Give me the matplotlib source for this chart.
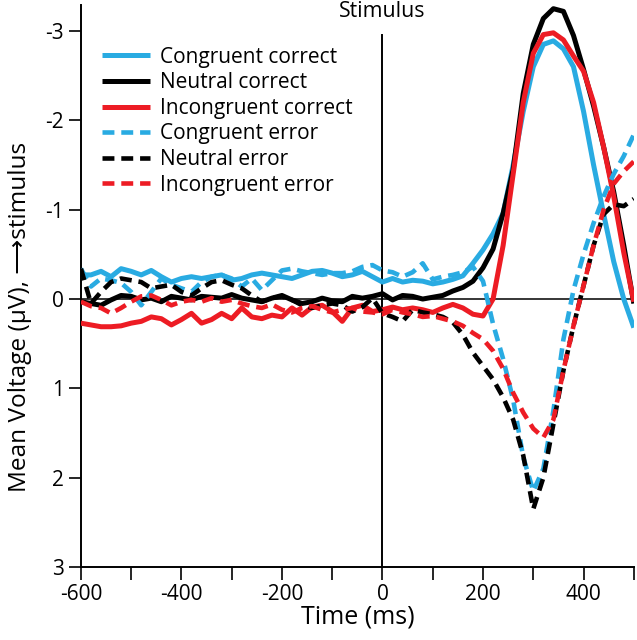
import numpy as np
import matplotlib
matplotlib.use("Agg")
import matplotlib.pyplot as plt

plt.rcParams['font.family'] = ['Open Sans', 'DejaVu Sans']
plt.rcParams['axes.unicode_minus'] = False

# Time axis (ms), one sample every 20 ms
time_ms = np.arange(-600, 501, 20)

# Mean voltage (uV), negative is up
congruent_correct = [
    -0.27, -0.27, -0.31, -0.25, -0.34, -0.31, -0.27, -0.32, -0.25, -0.19,
    -0.23, -0.25, -0.23, -0.25, -0.27, -0.21, -0.23, -0.27, -0.29, -0.27,
    -0.25, -0.23, -0.27, -0.31, -0.32, -0.29, -0.25, -0.27, -0.31, -0.25,
    -0.19, -0.23, -0.19, -0.21, -0.20, -0.17, -0.19, -0.22, -0.26, -0.40,
    -0.55, -0.73, -0.96, -1.50, -2.10, -2.60, -2.85, -2.89, -2.80, -2.60,
    -2.10, -1.50, -0.95, -0.42, 0.00, 0.32]
neutral_correct = [
    0.03, 0.05, 0.07, 0.01, -0.04, -0.03, 0.01, -0.01, 0.03, -0.03,
    -0.01, 0.01, -0.03, -0.02, -0.01, -0.05, -0.01, 0.01, 0.03, -0.01,
    -0.04, 0.01, 0.05, 0.03, -0.01, 0.02, 0.03, -0.03, -0.01, -0.03,
    -0.06, 0.01, -0.04, -0.03, 0.00, -0.02, -0.04, -0.09, -0.13, -0.20,
    -0.35, -0.56, -0.96, -1.45, -2.30, -2.85, -3.14, -3.25, -3.22, -2.95,
    -2.57, -2.16, -1.70, -1.20, -0.60, 0.05]
incongruent_correct = [
    0.27, 0.29, 0.31, 0.31, 0.30, 0.27, 0.25, 0.20, 0.22, 0.29,
    0.23, 0.16, 0.27, 0.23, 0.16, 0.22, 0.10, 0.20, 0.22, 0.18,
    0.20, 0.10, 0.18, 0.09, 0.07, 0.14, 0.25, 0.10, 0.07, 0.14,
    0.12, 0.09, 0.12, 0.10, 0.12, 0.15, 0.10, 0.06, 0.10, 0.17,
    0.19, 0.00, -0.60, -1.40, -2.20, -2.75, -2.96, -2.98, -2.90, -2.72,
    -2.55, -2.20, -1.70, -1.15, -0.52, 0.03]
congruent_error = [
    -0.34, -0.14, -0.23, -0.21, -0.18, -0.08, 0.07, -0.08, -0.23, -0.16,
    -0.12, -0.08, -0.19, -0.25, -0.27, -0.23, -0.14, -0.23, -0.10, -0.21,
    -0.32, -0.34, -0.31, -0.29, -0.27, -0.29, -0.29, -0.31, -0.36, -0.38,
    -0.32, -0.30, -0.25, -0.30, -0.40, -0.22, -0.25, -0.27, -0.30, -0.36,
    -0.20, 0.28, 0.67, 1.13, 1.77, 2.15, 1.90, 1.25, 0.45, -0.10,
    -0.50, -0.85, -1.15, -1.40, -1.60, -1.84]
neutral_error = [
    -0.34, 0.05, -0.08, -0.19, -0.23, -0.21, -0.19, -0.12, -0.14, -0.16,
    -0.08, -0.04, -0.12, -0.19, -0.21, -0.16, -0.12, -0.04, 0.03, -0.01,
    -0.03, 0.01, 0.07, 0.10, 0.07, 0.05, 0.07, 0.14, 0.09, -0.01,
    0.16, 0.20, 0.25, 0.12, 0.15, 0.17, 0.20, 0.26, 0.40, 0.60,
    0.75, 0.90, 1.10, 1.35, 1.75, 2.35, 2.00, 1.40, 0.80, 0.30,
    -0.15, -0.60, -0.95, -1.06, -1.04, -1.12]
incongruent_error = [
    0.03, 0.08, 0.10, 0.16, 0.10, 0.03, -0.03, -0.04, 0.01, 0.07,
    0.03, 0.01, 0.03, -0.01, 0.03, 0.01, 0.05, 0.08, 0.10, 0.06,
    0.12, 0.15, 0.10, 0.08, 0.12, 0.15, 0.12, 0.10, 0.14, 0.15,
    0.17, 0.12, 0.15, 0.17, 0.20, 0.19, 0.22, 0.25, 0.30, 0.38,
    0.45, 0.58, 0.78, 1.05, 1.27, 1.45, 1.55, 1.35, 0.80, 0.30,
    -0.15, -0.60, -1.00, -1.29, -1.43, -1.54]

labels = ["Congruent correct", "Neutral correct", "Incongruent correct",
          "Congruent error", "Neutral error", "Incongruent error"]

blue = '#29abe2'
red = '#ed1c24'
black = '#000000'

fig = plt.figure(figsize=(6.37, 6.4), dpi=100)
ax = fig.add_axes([0.127, 0.114, 0.868, 0.878])

# reference lines
ax.axhline(0, color='black', lw=1.1, zorder=1)
ax.plot([0, 0], [3, -2.96], color='black', lw=1.4, zorder=1)
ax.text(0, -3.1, "Stimulus", ha='center', va='bottom', fontsize=15.3)

series = [congruent_correct, neutral_correct, incongruent_correct,
          congruent_error, neutral_error, incongruent_error]
colors = [blue, black, red, blue, black, red]
for i, (vals, col, lab) in enumerate(zip(series, colors, labels)):
    if i < 3:
        ax.plot(time_ms, vals, color=col, lw=3.6, label=lab, zorder=3,
                solid_capstyle='butt')
    else:
        ax.plot(time_ms, vals, color=col, lw=3.3, label=lab, zorder=4,
                dashes=(2.6, 1.5))

ax.set_xlim(-600, 500)
ax.set_ylim(3, -3.29)

ax.set_xticks([-600, -400, -200, 0, 200, 400])
ax.set_xticks(np.arange(-500, 501, 200), minor=True)
ax.set_yticks([-3, -2, -1, 0, 1, 2, 3])
ax.tick_params(axis='both', which='both', direction='out', length=9,
               width=1.2, labelsize=15, pad=3)

for s in ['top', 'right']:
    ax.spines[s].set_visible(False)
for s in ['left', 'bottom']:
    ax.spines[s].set_linewidth(1.4)

ax.set_xlabel("Time (ms)", fontsize=18, labelpad=0)
ax.set_ylabel("Mean Voltage (\u00b5V), \u27f6stimulus", fontsize=17.6)
ax.yaxis.set_label_coords(-0.089, 0.445)

leg = ax.legend(loc='upper left', bbox_to_anchor=(0.039, 0.926), frameon=False,
                fontsize=15, handlelength=2.3, handletextpad=0.48,
                labelspacing=0.22, borderaxespad=0, borderpad=0)

fig.savefig("out.png", dpi=100)
